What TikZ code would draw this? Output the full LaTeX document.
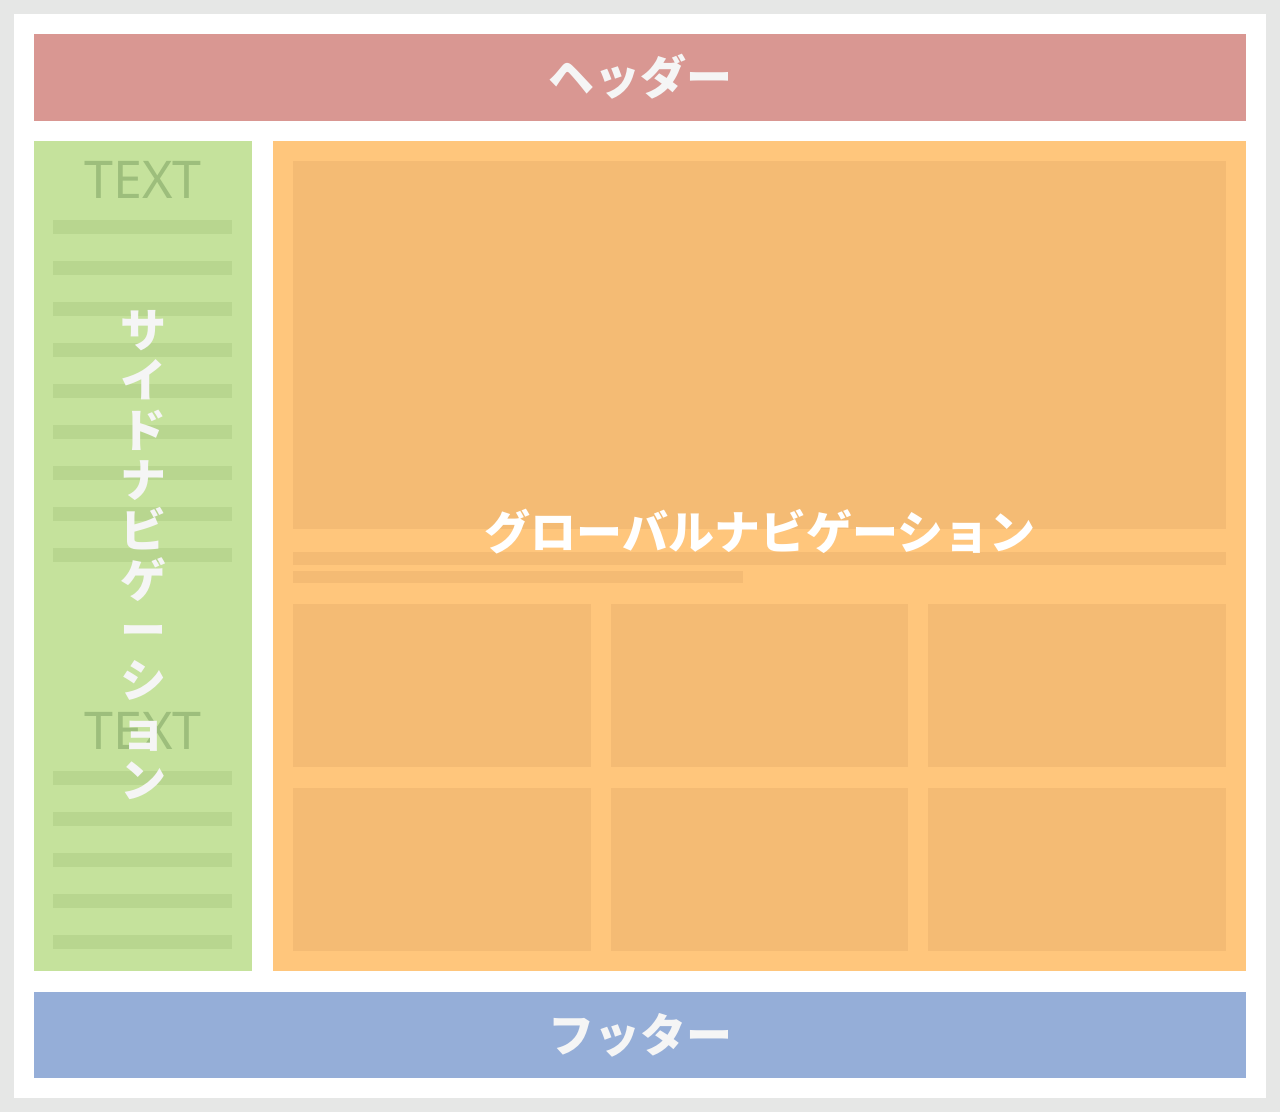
\documentclass[tikz,border=0pt]{standalone}
\usepackage{fontspec}
\setmainfont{Noto Sans}
\newfontfamily\jpfont{Noto Sans CJK JP}
\definecolor{pagegrey}{HTML}{E6E7E6}
\definecolor{headred}{HTML}{D99792}
\definecolor{sidegreen}{HTML}{C5E29C}
\definecolor{sideline}{HTML}{B8D68F}
\definecolor{sidetext}{HTML}{9DBE7C}
\definecolor{mainorange}{HTML}{FFC67C}
\definecolor{mainbox}{HTML}{F4BB74}
\definecolor{footblue}{HTML}{95AED8}
\tikzset{
  jplabel/.style={text=white!96!black, font=\jpfont\bfseries\fontsize{46}{50}\selectfont, inner sep=0pt},
  textlabel/.style={text=sidetext, font=\fontsize{52}{52}\selectfont, inner sep=0pt}
}
\begin{document}
\begin{tikzpicture}[x=1pt,y=-1pt]
  \useasboundingbox (0,0) rectangle (1280,1112);
  \fill[pagegrey] (0,0) rectangle (1280,1112);
  \fill[white] (14,14) rectangle (1266,1098);
  % header
  \fill[headred] (34,34) rectangle (1246,121);
  \node[jplabel] (header) at (640,77) {ヘッダー};
  % side navigation
  \fill[sidegreen] (34,141) rectangle (252,971);
  \node[textlabel] (text1) at (143,180) {TEXT};
  \foreach \y in {220, 261, ..., 548} {
    \fill[sideline] (53,\y) rectangle (232,\y+14);
  }
  \node[textlabel] (text2) at (143,731) {TEXT};
  \foreach \y in {771, 812, ..., 935} {
    \fill[sideline] (53,\y) rectangle (232,\y+14);
  }
  \node[jplabel, align=center] (sidenav) at (143,555)
    {サ\\イ\\ド\\ナ\\ビ\\ゲ\\ー\\シ\\ョ\\ン};
  % global navigation
  \fill[mainorange] (273,141) rectangle (1246,971);
  \fill[mainbox] (293,161) rectangle (1226,529);
  \fill[mainbox] (293,552) rectangle (1226,565);
  \fill[mainbox] (293,571) rectangle (743,583);
  \foreach \x/\xx in {293/591, 611/908, 928/1226} {
    \foreach \y/\yy in {604/767, 788/951} {
      \fill[mainbox] (\x,\y) rectangle (\xx,\yy);
    }
  }
  \node[jplabel, text=white] (globalnav) at (760,532) {グローバルナビゲーション};
  % footer
  \fill[footblue] (34,992) rectangle (1246,1078);
  \node[jplabel] (footer) at (640,1035) {フッター};
\end{tikzpicture}
\end{document}
